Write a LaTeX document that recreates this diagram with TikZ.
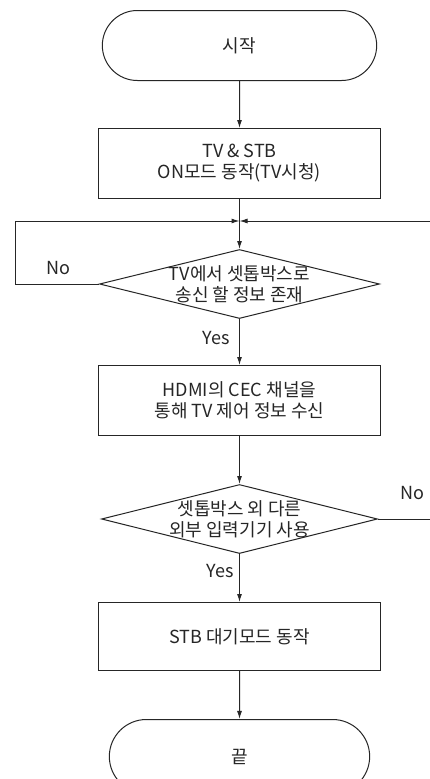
\documentclass[tikz,border=0pt]{standalone}
\usepackage{fontspec}
\newfontfamily\krfont{Noto Sans CJK KR}
\usetikzlibrary{arrows.meta,shapes.geometric,shapes.misc,positioning}
\tikzset{
term/.style= {rounded rectangle, draw, line width=1pt, minimum width=281pt, minimum height=70pt, align=center},
proc/.style= {rectangle, draw, line width=1pt, minimum width=282pt, minimum height=70pt, align=center},
decision/.style= {diamond, draw, line width=1pt, minimum width=280pt, minimum height=69pt, inner sep=0pt},
dtext/.style= {align=center, inner sep=0pt},
lbl/.style= {inner sep=0pt}
}

\begin{document}
\begin{tikzpicture}[x=1pt, y=-1pt, line width=1pt, >={Latex[length=8pt,width=5pt]}, color=black!85, font=\krfont\fontsize{18}{21}\selectfont]
\path[use as bounding box, fill=white] (0,0) rectangle (430,779);

\node[term] (start) at (239.5,45.5) {시작};
\node[proc, below=47pt of start] (box1) {TV \& STB\\ON모드 동작(TV시청)};
\coordinate[below=22pt of box1] (m);
\node[decision, below=50pt of box1] (d1) {};
\node[dtext] (d1t) at (d1) {TV에서 셋톱박스로\\송신 할 정보 존재};
\node[proc, below=46pt of d1] (box2) {HDMI의 CEC 채널을\\통해 TV 제어 정보 수신};
\node[decision, below=48pt of box2, minimum width=276pt] (d2) {};
\node[dtext] (d2t) at (d2) {셋톱박스 외 다른\\외부 입력기기 사용};
\node[proc, below=48pt of d2, minimum height=68pt] (box3) {STB 대기모드 동작};
\node[term, below=48pt of box3, minimum width=267pt, minimum height=74pt] (endt) {끝};

\coordinate (lx) at (15.5,0);
\coordinate (rx) at (432,0);

\node[lbl] (no1) at (58,268) {No};
\node[lbl] (yes1) at (216,338) {Yes};
\node[lbl] (no2) at (412,493) {No};
\node[lbl] (yes2) at (220,571) {Yes};

\draw[->] (start) -- (box1);
\draw (box1) -- (m);
\draw[->] (m) -- (d1);
\draw[->] (d1.west) -- (d1.west -| lx) |- (m);
\draw[->] (d1) -- (box2);
\draw[->] (box2) -- (d2);
\draw[->] (d2.east) -- (d2.east -| rx) |- (m);
\draw[->] (d2) -- (box3);
\draw[->] (box3) -- (endt);
\end{tikzpicture}
\end{document}
